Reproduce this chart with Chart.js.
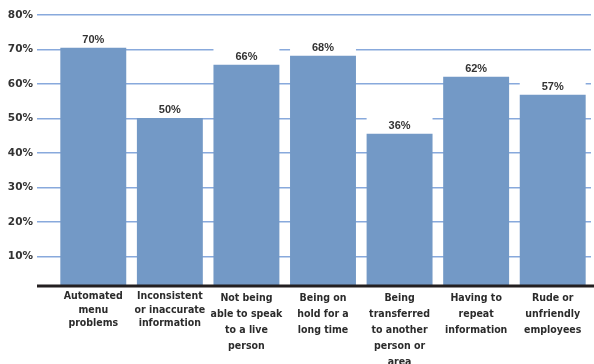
<!DOCTYPE html>
<html>
<head>
<meta charset="utf-8">
<script src="https://cdn.jsdelivr.net/npm/chart.js@4/dist/chart.umd.min.js"></script>
<style>
  html, body { margin: 0; padding: 0; background: #fff; }
  #wrap { width: 594px; height: 364px; }
</style>
</head>
<body>
<div id="wrap"><canvas id="chart" width="594" height="364"></canvas></div>
<script>
// categories (multi-line labels as printed under the bars)
const categories = [
  ["Automated", "menu", "problems"],
  ["Inconsistent", "or inaccurate", "information"],
  ["Not being", "able to speak", "to a live", "person"],
  ["Being on", "hold for a", "long time"],
  ["Being", "transferred", "to another", "person or", "area"],
  ["Having to", "repeat", "information"],
  ["Rude or", "unfriendly", "employees"]
];
// bar heights as drawn against the axis
const barValues = [70.5, 50.2, 65.6, 68.2, 45.6, 62.1, 56.9];
// value labels printed above the bars
const barLabels = ["70%", "50%", "66%", "68%", "36%", "62%", "57%"];
const yTicks = [10, 20, 30, 40, 50, 60, 70, 80];

const barColor = "#7399c6";
const gridColor = "#88a9dc";
const labelFont = "'Liberation Sans Narrow', 'DejaVu Sans Condensed', sans-serif";

// white boxes behind value labels + the labels themselves
const labelPlugin = {
  id: "barLabels",
  beforeDatasetsDraw(chart) {
    const ctx = chart.ctx;
    const meta = chart.getDatasetMeta(0);
    ctx.save();
    ctx.fillStyle = "#fff";
    meta.data.forEach((bar) => {
      const w = bar.width;
      ctx.fillRect(bar.x - w / 2, bar.y - 17, w, 17);
    });
    ctx.restore();
  },
  afterDatasetsDraw(chart) {
    const ctx = chart.ctx;
    const meta = chart.getDatasetMeta(0);
    ctx.save();
    ctx.fillStyle = "#333";
    ctx.font = "bold 11px 'Liberation Sans'";
    ctx.textAlign = "center";
    ctx.textBaseline = "middle";
    meta.data.forEach((bar, i) => {
      ctx.fillText(barLabels[i], bar.x, bar.y - 7.5);
    });
    // heavy baseline
    const area = chart.chartArea;
    ctx.strokeStyle = "#231f20";
    ctx.lineWidth = 3;
    ctx.beginPath();
    ctx.moveTo(37, area.bottom);
    ctx.lineTo(594, area.bottom);
    ctx.stroke();
    ctx.restore();
  }
};

new Chart(document.getElementById("chart"), {
  type: "bar",
  data: {
    labels: categories,
    datasets: [{
      data: barValues,
      backgroundColor: barColor,
      borderWidth: 0,
      categoryPercentage: 1,
      barPercentage: 0.861
    }]
  },
  options: {
    responsive: false,
    animation: false,
    layout: { padding: { top: 15, right: 3, left: 0, bottom: 0 } },
    plugins: {
      legend: { display: false },
      tooltip: { enabled: false }
    },
    scales: {
      x: {
        grid: { display: false, drawTicks: false },
        border: { display: false },
        ticks: {
          color: "#2b2b2b",
          padding: 4,
          maxRotation: 0,
          autoSkip: false,
          font: (c) => ({
            family: labelFont,
            size: 10.5,
            weight: "bold",
            lineHeight: c.index < 2 ? 13.5 / 10.5 : 16 / 10.5
          })
        },
        afterFit(scale) { scale.height = 78; }
      },
      y: {
        min: 1.5,
        max: 80,
        afterBuildTicks(scale) {
          scale.ticks = yTicks.map((v) => ({ value: v }));
        },
        grid: { color: gridColor, lineWidth: 1.5, tickLength: 18, drawTicks: true },
        border: { display: false },
        ticks: {
          color: "#333",
          padding: 4,
          font: { family: "'DejaVu Sans', sans-serif", size: 10.5, weight: "bold" },
          callback: (v) => v + "%"
        },
        afterFit(scale) { scale.width = 55; }
      }
    }
  },
  plugins: [labelPlugin]
});
</script>
</body>
</html>
